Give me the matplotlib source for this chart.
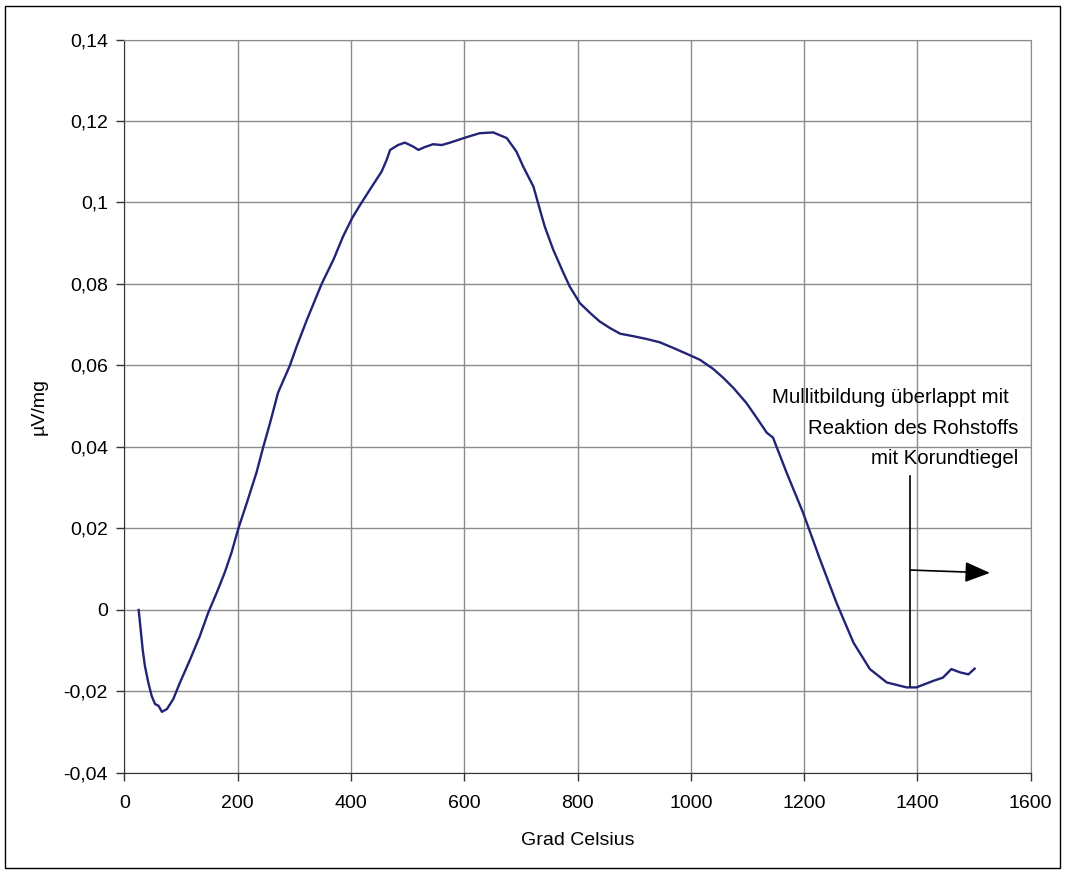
import matplotlib
matplotlib.use("Agg")
import matplotlib.pyplot as plt
from matplotlib.ticker import FuncFormatter, MultipleLocator
from matplotlib.patches import Rectangle

# DTA curve
temp = [25, 28.5, 32, 36, 42, 48, 54, 60, 66, 75, 86, 98, 116, 133, 148,
        163, 177, 189, 201, 216, 233, 245, 257, 271, 292, 304, 322, 348,
        369, 386, 402, 416, 433, 454, 463, 469, 483, 495, 510, 519, 530,
        545, 560, 575, 601, 627, 651, 675, 692, 704, 722, 736, 742, 757,
        775, 786, 804, 822, 839, 857, 875, 898, 922, 945, 969, 992, 1016,
        1039, 1057, 1075, 1098, 1116, 1134, 1145, 1169, 1198, 1228, 1257,
        1287, 1316, 1346, 1381, 1398, 1428, 1445, 1460, 1475, 1490, 1501]
signal = [0.0, -0.0047, -0.0096, -0.0137, -0.0178, -0.0211, -0.0231, -0.0235,
          -0.025, -0.0243, -0.0219, -0.0178, -0.0121, -0.0064, -0.0006,
          0.0043, 0.0092, 0.0141, 0.02, 0.0263, 0.0337, 0.04, 0.0459, 0.0533,
          0.06, 0.0647, 0.0712, 0.08, 0.086, 0.0917, 0.0962, 0.0994, 0.1031,
          0.1076, 0.1105, 0.1129, 0.1141, 0.1147, 0.1137, 0.1129, 0.1136,
          0.1143, 0.1141, 0.1147, 0.1159, 0.117, 0.1172, 0.1158, 0.1125,
          0.1088, 0.1039, 0.097, 0.0941, 0.0884, 0.0827, 0.0794, 0.0753,
          0.0729, 0.0708, 0.0692, 0.0678, 0.0672, 0.0665, 0.0657, 0.0643,
          0.0629, 0.0614, 0.0592, 0.057, 0.0545, 0.0508, 0.0472, 0.0435,
          0.0423, 0.0337, 0.0239, 0.0124, 0.0018, -0.008, -0.0145, -0.0178,
          -0.019, -0.019, -0.0174, -0.0166, -0.0145, -0.0153, -0.0158, -0.0144]

note_lines = ["Mullitbildung überlappt mit", "Reaktion des Rohstoffs", "mit Korundtiegel"]
note_line_x = [1562, 1578, 1578]
note_line_y = [0.0508, 0.0431, 0.0358]
note_x = 1387
note_top = 0.0328
note_bottom = -0.0187
arrow_start = (1387, 0.0098)
arrow_end = (1528, 0.0091)

plt.rcParams['font.family'] = ['Liberation Sans', 'DejaVu Sans']
plt.rcParams['font.size'] = 14

fig = plt.figure(figsize=(10.65, 8.74), dpi=100)
ax = fig.add_axes([0.1169, 0.1156, 0.8509, 0.8392])

ax.plot(temp, signal, color='#232378', linewidth=1.7)

ax.set_xlim(0, 1600)
ax.set_ylim(-0.04, 0.14)
ax.xaxis.set_major_locator(MultipleLocator(200))
ax.yaxis.set_major_locator(MultipleLocator(0.02))


def comma_fmt(v, pos):
    s = f"{v:.2f}".rstrip('0').rstrip('.')
    if s in ("-0", ""):
        s = "0"
    return s.replace('.', ',')


ax.yaxis.set_major_formatter(FuncFormatter(comma_fmt))
ax.grid(True, color='#8c8c8c', linewidth=1.0)
ax.set_axisbelow(True)
ax.tick_params(direction='out', length=6, width=1, color='#333333')
ax.tick_params(axis='y', pad=6)
ax.tick_params(axis='x', pad=10)
for side in ('left', 'bottom'):
    ax.spines[side].set_color('#333333')
for side in ('top', 'right'):
    ax.spines[side].set_color('#8c8c8c')

ax.set_xlabel("Grad Celsius", labelpad=14)
ax.set_ylabel("µV/mg", labelpad=11)

# annotation
ax.plot([note_x, note_x], [note_bottom, note_top], color='black', linewidth=1.2)
ax.annotate("", xy=arrow_end, xytext=arrow_start,
            arrowprops=dict(arrowstyle='-|>,head_length=1.1,head_width=0.45',
                            color='black', linewidth=1.2, shrinkA=0, shrinkB=0))
for line, lx, ly in zip(note_lines, note_line_x, note_line_y):
    ax.text(lx, ly, line, ha='right', va='baseline', fontsize=14.7)

fig.patches.append(Rectangle((5 / 1065, 6 / 874), 1055 / 1065, 862 / 874,
                             transform=fig.transFigure, fill=False,
                             edgecolor='black', linewidth=1.0))

fig.savefig("out.png", dpi=100)
